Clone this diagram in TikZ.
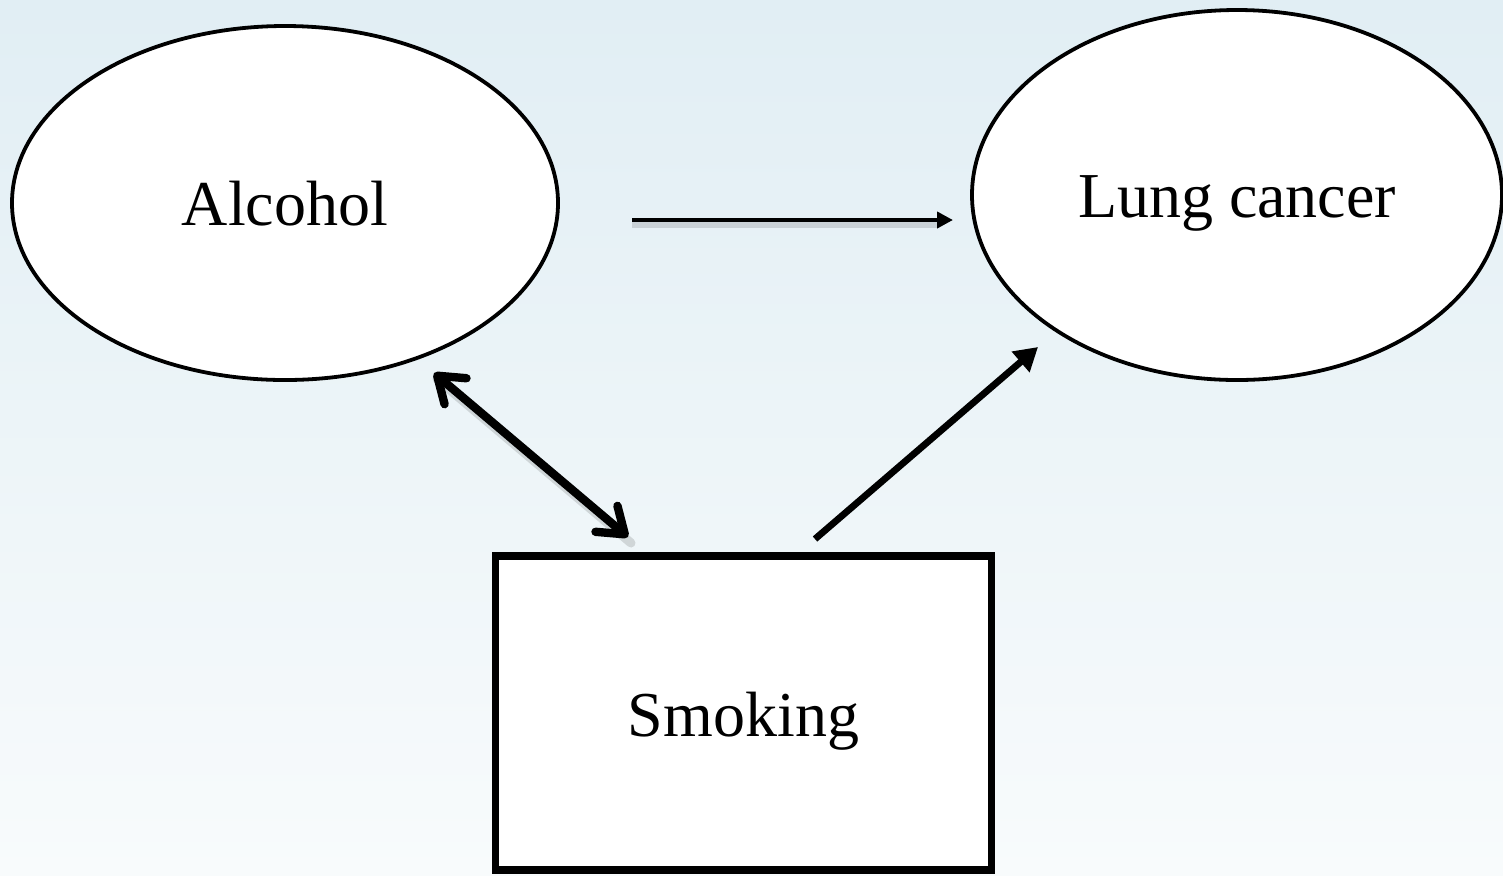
\documentclass[tikz,border=0pt]{standalone}
\usepackage{fontspec}
\setmainfont{Liberation Serif}
\usetikzlibrary{shapes.geometric,arrows.meta}
\definecolor{bgtop}{HTML}{E1EEF4}
\definecolor{bgbot}{HTML}{F8FBFC}
\newcommand{\lowtext}[2]{\smash{\raisebox{-#1}{#2}}}
\begin{document}
\begin{tikzpicture}[x=0.5pt,y=-0.5pt,
  ovalnode/.style={ellipse,draw=black,line width=1.9pt,fill=white,inner sep=0pt,
    font=\fontsize{32}{38}\selectfont},
  boxnode/.style={rectangle,draw=black,line width=3.8pt,fill=white,inner sep=0pt,
    minimum width=248pt,minimum height=157pt,font=\fontsize{32}{38}\selectfont},
  shadowline/.style={draw=black,opacity=0.13},
]
\useasboundingbox (0,0) rectangle (1503,875);
\shade[top color=bgtop,bottom color=bgbot] (0,0) rectangle (1503,875);

\node[ovalnode,minimum width=273pt,minimum height=177pt] (alc) at (285,203) {\lowtext{11pt}{Alcohol}};
\node[ovalnode,minimum width=265pt,minimum height=185pt] (lung) at (1237,195) {\lowtext{11pt}{Lung cancer}};
\node[boxnode] (smk) at (743.5,713) {\lowtext{11.5pt}{Smoking}};

% endpoints
\coordinate (h1) at (632,220);
\coordinate (h2) at (953,220);
\coordinate (d1) at (434,373);
\coordinate (d2) at (628,537);
\coordinate (s1) at (815,539);
\coordinate (s2) at (1038,347);

% shadows
\draw[shadowline,line width=3pt] ([yshift=-2.5pt]h1) -- ([yshift=-2.5pt,xshift=-8pt]h2);
\draw[shadowline,line width=4.5pt,line cap=round] ([xshift=1.5pt,yshift=-3pt]d1) -- ([xshift=1.5pt,yshift=-3pt]d2);

% connectors
\draw[line width=2.4pt,-{Triangle[length=8pt,width=8pt]}] (h1) -- (h2);
\draw[line width=4.2pt,line cap=round,
  {Straight Barb[round,length=12pt,width=17pt]}-{Straight Barb[round,length=12pt,width=17pt]}] (d1) -- (d2);
\draw[line width=3.4pt,-{Triangle[length=11.5pt,width=13pt]}] (s1) -- (s2);
\end{tikzpicture}
\end{document}
